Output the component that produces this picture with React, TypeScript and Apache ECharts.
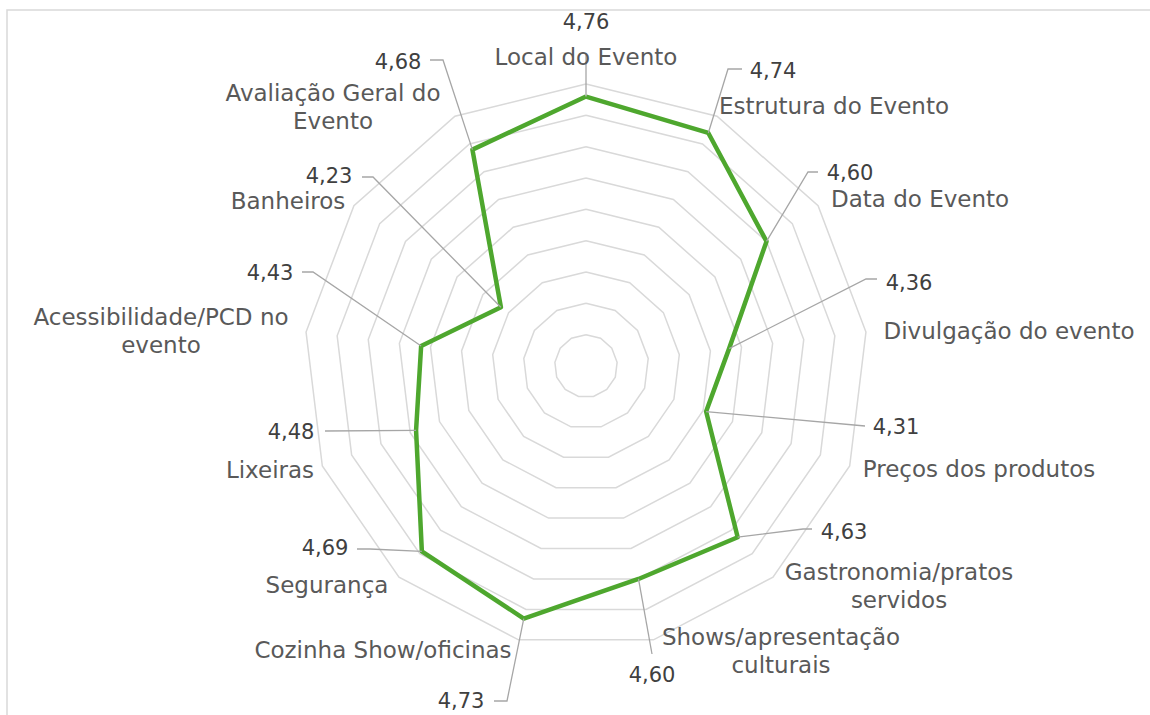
import React, { useEffect, useRef } from "react";
import * as echarts from "echarts";

// Categories in clockwise order, starting at the top
const categories = [
  "Local do Evento",
  "Estrutura do Evento",
  "Data do Evento",
  "Divulgação do evento",
  "Preços dos produtos",
  "Gastronomia/pratos servidos",
  "Shows/apresentação culturais",
  "Cozinha Show/oficinas",
  "Segurança",
  "Lixeiras",
  "Acessibilidade/PCD no evento",
  "Banheiros",
  "Avaliação Geral do Evento",
];
const values = [4.76, 4.74, 4.6, 4.36, 4.31, 4.63, 4.6, 4.73, 4.69, 4.48, 4.43, 4.23, 4.68];
const axisMin = 3.9;
const axisMax = 4.8;
const axisSplits = 9;

// Layout of labels (positions only): value label center, name label center,
// words on first line (0 = single line), leader-line elbow points
type Lay = { vx: number; vy: number; nx: number; ny: number; brk: number; lead: number[][] };
const layout: Lay[] = [
  { vx: 586, vy: 22, nx: 586, ny: 57, brk: 0, lead: [[586, 55]] },
  { vx: 773, vy: 71, nx: 834, ny: 106, brk: 0, lead: [[728, 69], [742, 69]] },
  { vx: 850, vy: 173, nx: 920, ny: 199, brk: 0, lead: [[808, 172], [818, 172]] },
  { vx: 909, vy: 283, nx: 1009, ny: 331, brk: 0, lead: [[866, 279], [877, 279]] },
  { vx: 896, vy: 427, nx: 979, ny: 469, brk: 0, lead: [[865, 426]] },
  { vx: 844, vy: 532, nx: 899, ny: 586, brk: 1, lead: [[803, 529], [812, 529]] },
  { vx: 652, vy: 675, nx: 781, ny: 651, brk: 1, lead: [[652, 654]] },
  { vx: 461, vy: 701, nx: 383, ny: 650, brk: 0, lead: [[507, 701], [494, 701]] },
  { vx: 325, vy: 548, nx: 327, ny: 585, brk: 0, lead: [[370, 549], [357, 549]] },
  { vx: 291, vy: 432, nx: 270, ny: 470, brk: 0, lead: [[325, 431]] },
  { vx: 270, vy: 273, nx: 161, ny: 331, brk: 2, lead: [[313, 272], [302, 272]] },
  { vx: 329, vy: 176, nx: 288, ny: 201, brk: 0, lead: [[373, 177], [362, 177]] },
  { vx: 398, vy: 62, nx: 333, ny: 107, brk: 3, lead: [[443, 60], [430, 60]] },
];

const FONT = "DejaVu Sans";
const CENTER: [number, number] = [586, 366];
const RADIUS = 282;

export default function App() {
  const ref = useRef<HTMLDivElement>(null);
  useEffect(() => {
    if (!ref.current) return;
    const chart = echarts.init(ref.current, null, { renderer: "svg" });
    const n = categories.length;
    // ECharts places radar indicators counter-clockwise; reorder so they run clockwise
    const order = [0, ...Array.from({ length: n - 1 }, (_, i) => n - 1 - i)];
    const posOf: number[] = [];
    order.forEach((src, pos) => (posOf[src] = pos));

    chart.setOption({
      animation: false,
      backgroundColor: "#ffffff",
      radar: {
        center: CENTER,
        radius: RADIUS,
        startAngle: 90,
        splitNumber: axisSplits,
        shape: "polygon",
        indicator: order.map((i) => ({ name: categories[i], min: axisMin, max: axisMax })),
        axisName: { show: false },
        axisLine: { show: false },
        axisTick: { show: false },
        axisLabel: { show: false },
        splitArea: { show: false },
        splitLine: { lineStyle: { color: "#d9d9d9", width: 1.5 } },
      },
      series: [
        {
          type: "radar",
          symbol: "none",
          silent: true,
          lineStyle: { color: "#4ea72e", width: 4.5 },
          data: [{ value: order.map((i) => values[i]) }],
        },
      ],
    });

    let coord: any = null;
    try {
      coord = (chart as any).getModel().getComponent("radar", 0).coordinateSystem;
    } catch (e) {
      coord = null;
    }
    const pointOf = (i: number): number[] => {
      if (coord && coord.dataToPoint) return coord.dataToPoint(values[i], posOf[i]);
      const ang = Math.PI / 2 - (i * 2 * Math.PI) / n;
      const r = (RADIUS * (values[i] - axisMin)) / (axisMax - axisMin);
      return [CENTER[0] + r * Math.cos(ang), CENTER[1] - r * Math.sin(ang)];
    };

    const graphics: any[] = [
      {
        type: "polyline",
        silent: true,
        shape: { points: [[7, 900], [7, 10], [1400, 10]] },
        style: { fill: "none", stroke: "#d9d9d9", lineWidth: 1.5 },
        z: 0,
      },
    ];
    categories.forEach((name, i) => {
      const L = layout[i];
      const p = pointOf(i);
      graphics.push({
        type: "polyline",
        silent: true,
        shape: { points: [p, ...L.lead] },
        style: { stroke: "#a6a6a6", lineWidth: 1.3, fill: "none" },
        z: 5,
      });
      const words = name.split(" ");
      const txt = L.brk > 0 ? words.slice(0, L.brk).join(" ") + "\n" + words.slice(L.brk).join(" ") : name;
      graphics.push({
        type: "text",
        silent: true,
        x: L.nx,
        y: L.ny,
        z: 6,
        style: {
          text: txt,
          fill: "#595959",
          fontFamily: FONT,
          fontSize: 23,
          lineHeight: 28,
          align: "center",
          verticalAlign: "middle",
        },
      });
      graphics.push({
        type: "text",
        silent: true,
        x: L.vx,
        y: L.vy,
        z: 6,
        style: {
          text: values[i].toFixed(2).replace(".", ","),
          fill: "#404040",
          fontFamily: FONT,
          fontSize: 21,
          align: "center",
          verticalAlign: "middle",
        },
      });
    });
    chart.setOption({ graphic: graphics });

    return () => chart.dispose();
  }, []);
  return (
    <div
      ref={ref}
      style={{ position: "fixed", left: 0, top: 0, width: 1150, height: 715 }}
    />
  );
}
